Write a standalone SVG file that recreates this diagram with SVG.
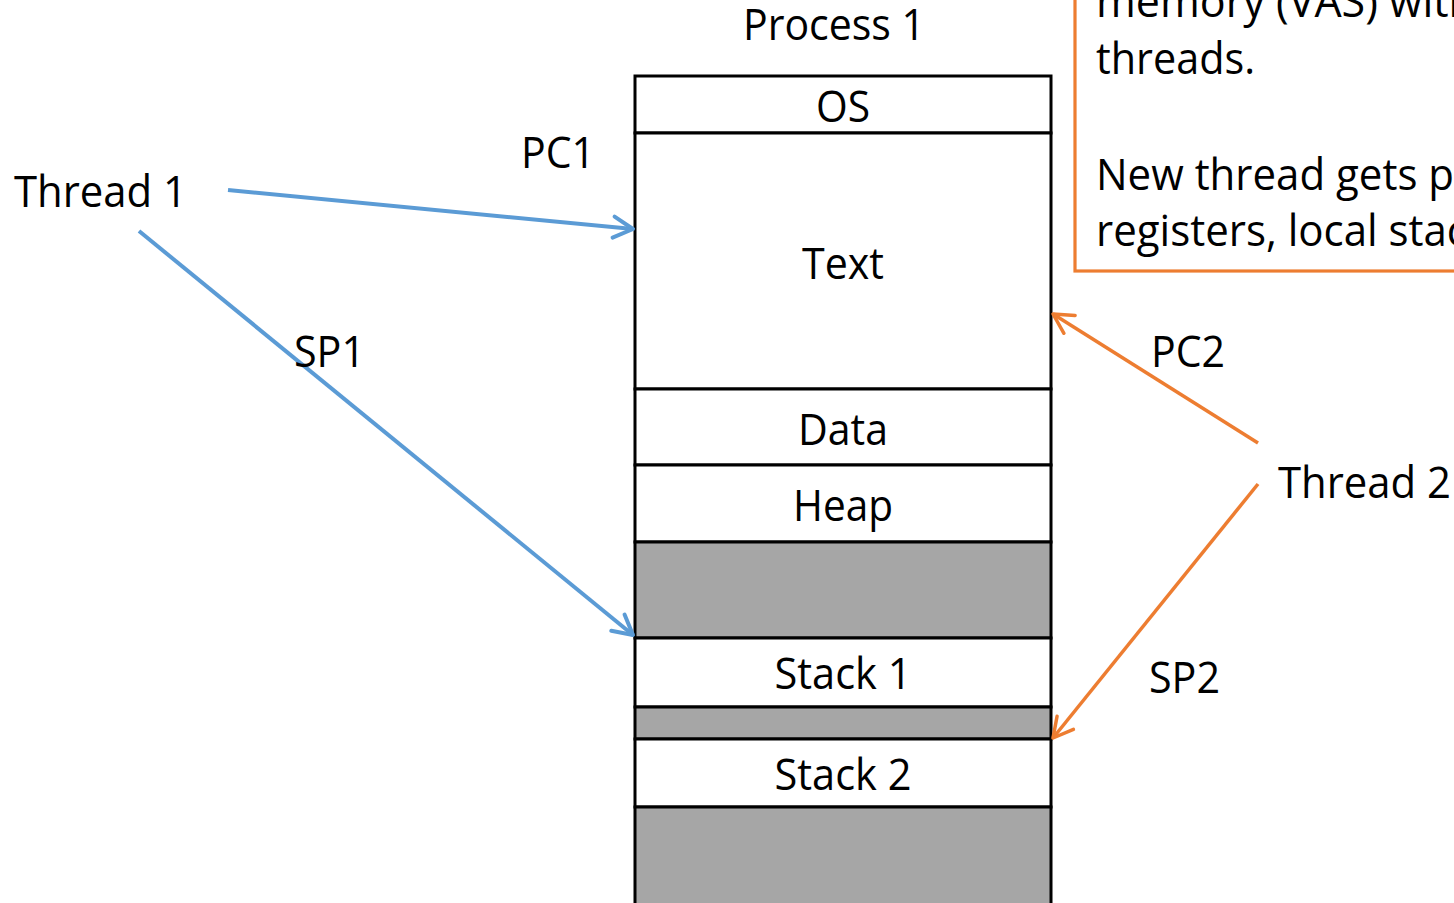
<svg xmlns="http://www.w3.org/2000/svg" width="1454" height="903" viewBox="0 0 1454 903">
  <style>
    text { font-family: "Open Sans", "Noto Sans", "DejaVu Sans", sans-serif; font-size: 44px; fill: #000; }
    .mid { text-anchor: middle; }
    .seg { stroke: #000; stroke-width: 3; }
    .free { fill: #a6a6a6; }
    .used { fill: #fff; }
    .blue { stroke: #5b9bd5; stroke-width: 4; fill: none; }
    .orange { stroke: #ed7d31; stroke-width: 3.5; fill: none; }
  </style>
  <defs>
    <marker id="headBlue" markerUnits="userSpaceOnUse" refX="0" refY="0" markerWidth="1" markerHeight="1" orient="auto" overflow="visible">
      <path d="M-19.5,-10.5 L0,0 L-19.5,10.5" fill="none" stroke="#5b9bd5" stroke-width="4" stroke-linecap="round" stroke-linejoin="round"/>
    </marker>
    <marker id="headOrange" markerUnits="userSpaceOnUse" refX="0" refY="0" markerWidth="1" markerHeight="1" orient="auto" overflow="visible">
      <path d="M-19.5,-10.5 L0,0 L-19.5,10.5" fill="none" stroke="#ed7d31" stroke-width="3.5" stroke-linecap="round" stroke-linejoin="round"/>
    </marker>
  </defs>

  <rect width="1454" height="903" fill="#fff"/>

  <!-- Note box, partly off the top and right edges -->
  <g id="note">
    <rect x="1075" y="-20" width="420" height="291" fill="#fff" stroke="#ed7d31" stroke-width="3.2"/>
    <text x="1096" y="17" textLength="379" lengthAdjust="spacingAndGlyphs">memory (VAS) with</text>
    <text x="1096" y="74" textLength="159" lengthAdjust="spacingAndGlyphs">threads.</text>
    <text x="1096" y="190" textLength="358" lengthAdjust="spacingAndGlyphs">New thread gets p</text>
    <text x="1096" y="246" textLength="371" lengthAdjust="spacingAndGlyphs">registers, local stac</text>
  </g>

  <!-- Address space of the process -->
  <g id="process1">
    <text class="mid" x="834" y="40" textLength="182" lengthAdjust="spacingAndGlyphs">Process 1</text>
    <g id="seg-os">
      <rect class="seg used" x="635" y="76" width="416" height="57"/>
      <text class="mid" x="843" y="122" textLength="54" lengthAdjust="spacingAndGlyphs">OS</text>
    </g>
    <g id="seg-text">
      <rect class="seg used" x="635" y="133" width="416" height="256"/>
      <text class="mid" x="843" y="279" textLength="82" lengthAdjust="spacingAndGlyphs">Text</text>
    </g>
    <g id="seg-data">
      <rect class="seg used" x="635" y="389" width="416" height="76"/>
      <text class="mid" x="843" y="445" textLength="90" lengthAdjust="spacingAndGlyphs">Data</text>
    </g>
    <g id="seg-heap">
      <rect class="seg used" x="635" y="465" width="416" height="77"/>
      <text class="mid" x="843" y="521" textLength="100" lengthAdjust="spacingAndGlyphs">Heap</text>
    </g>
    <g id="seg-free1">
      <rect class="seg free" x="635" y="542" width="416" height="96"/>
    </g>
    <g id="seg-stack1">
      <rect class="seg used" x="635" y="638" width="416" height="69"/>
      <text class="mid" x="843" y="689" textLength="137" lengthAdjust="spacingAndGlyphs">Stack 1</text>
    </g>
    <g id="seg-free2">
      <rect class="seg free" x="635" y="707" width="416" height="32"/>
    </g>
    <g id="seg-stack2">
      <rect class="seg used" x="635" y="739" width="416" height="68"/>
      <text class="mid" x="843" y="790" textLength="137" lengthAdjust="spacingAndGlyphs">Stack 2</text>
    </g>
    <g id="seg-free3">
      <rect class="seg free" x="635" y="807" width="416" height="110"/>
    </g>
  </g>

  <g id="thread1">
    <text x="14" y="207" textLength="173" lengthAdjust="spacingAndGlyphs">Thread 1</text>
  </g>
  <g id="thread2">
    <text x="1278" y="498" textLength="173" lengthAdjust="spacingAndGlyphs">Thread 2</text>
  </g>

  <!-- Register pointers -->
  <g id="connectors">
    <line class="blue" x1="228" y1="190" x2="633" y2="229" marker-end="url(#headBlue)"/>
    <line class="blue" x1="139" y1="231" x2="633" y2="635" marker-end="url(#headBlue)"/>
    <line class="orange" x1="1258" y1="443" x2="1053" y2="314" marker-end="url(#headOrange)"/>
    <line class="orange" x1="1258" y1="484" x2="1053" y2="738" marker-end="url(#headOrange)"/>
    <text x="521" y="168" textLength="74" lengthAdjust="spacingAndGlyphs">PC1</text>
    <text x="294" y="367" textLength="71" lengthAdjust="spacingAndGlyphs">SP1</text>
    <text x="1151" y="367" textLength="74" lengthAdjust="spacingAndGlyphs">PC2</text>
    <text x="1149" y="693" textLength="71" lengthAdjust="spacingAndGlyphs">SP2</text>
  </g>
</svg>
